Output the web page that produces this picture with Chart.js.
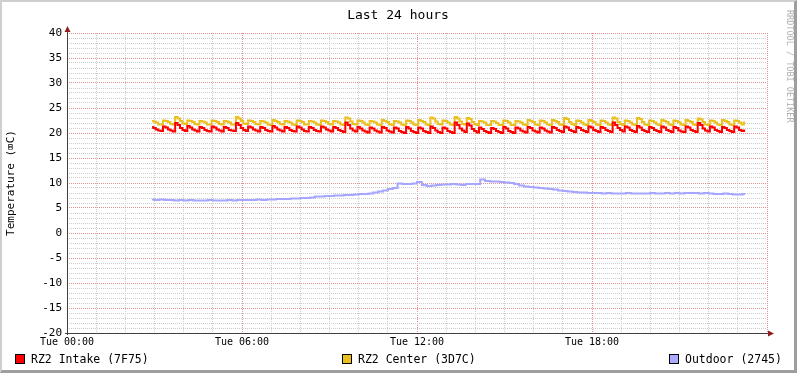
<!DOCTYPE html>
<html><head><meta charset="utf-8">
<script src="https://cdn.jsdelivr.net/npm/chart.js@4/dist/chart.umd.min.js"></script>
<style>
html,body{margin:0;padding:0;background:#fff;}
#frame{position:absolute;left:0;top:0;width:797px;height:373px;box-sizing:border-box;border-top:2px solid #cfcfcf;border-left:2px solid #cfcfcf;border-right:3px solid #9e9e9e;border-bottom:3px solid #9e9e9e;background:#fff;}
#c{display:block;}
</style></head><body>
<div id="frame"><canvas id="c" width="792" height="368"></canvas></div>
<script>
const TITLE = 'Last 24 hours';
const Y_TITLE = 'Temperature (\u2327C)';
const WATERMARK = 'RRDTOOL / TOBI OETIKER';
const X_TICK_HOURS = [0, 6, 12, 18];
const X_TICK_LABELS = ['Tue 00:00', 'Tue 06:00', 'Tue 12:00', 'Tue 18:00'];
const SERIES_LABELS = ['RZ2 Intake (7F75)', 'RZ2 Center (3D7C)', 'Outdoor (2745)'];
const SERIES_COLORS = ['#ff0000', '#eac01e', '#aaaaff'];
const START_HOUR = 2 + 55 / 60;   // first sample 02:55
const STEP_HOURS = 5 / 60;        // intake / center sample step
const OUT_STEP_HOURS = 10 / 60;   // outdoor sample step

const intake = [
  21.2,21.0,20.7,20.5,20.4, 21.3,21.1,20.7,20.5,20.3, 22.0,21.6,21.0,20.6,20.4, 21.4,21.1,20.7,20.5,20.3,
  21.2,21.0,20.6,20.4,20.3, 21.3,21.1,20.7,20.5,20.3, 21.2,21.0,20.6,20.5,20.4, 22.0,21.6,21.0,20.6,20.4,
  21.3,21.1,20.7,20.5,20.3, 21.2,21.0,20.6,20.4,20.3, 21.4,21.1,20.7,20.5,20.3, 21.2,21.0,20.6,20.4,20.3,
  21.3,21.1,20.7,20.4,20.3, 21.2,21.0,20.6,20.4,20.3, 21.3,21.1,20.7,20.5,20.3, 21.2,21.0,20.6,20.4,20.2,
  22.1,21.6,20.9,20.5,20.3, 21.2,20.9,20.5,20.3,20.1, 21.1,20.9,20.5,20.3,20.1, 21.2,21.0,20.5,20.3,20.1,
  21.1,20.9,20.4,20.2,20.0, 21.2,20.9,20.4,20.2,20.0, 21.1,20.9,20.4,20.2,20.0, 21.3,21.0,20.5,20.2,20.0,
  21.1,20.9,20.4,20.2,20.0, 22.1,21.6,20.9,20.5,20.2, 21.9,21.5,20.8,20.4,20.1, 21.1,20.8,20.4,20.2,20.0,
  21.0,20.8,20.4,20.2,20.0, 21.2,20.9,20.4,20.2,20.0, 21.1,20.9,20.5,20.3,20.1, 21.2,21.0,20.5,20.3,20.1,
  21.1,20.9,20.5,20.3,20.1, 21.2,21.0,20.6,20.4,20.2, 21.3,21.1,20.6,20.4,20.2, 21.2,21.0,20.6,20.4,20.2,
  21.3,21.1,20.6,20.4,20.2, 21.2,21.0,20.6,20.4,20.2, 22.1,21.6,21.0,20.6,20.3, 21.3,21.1,20.6,20.4,20.2,
  21.4,21.1,20.6,20.4,20.2, 21.2,21.0,20.6,20.4,20.2, 21.3,21.1,20.6,20.4,20.2, 21.2,21.0,20.5,20.3,20.2,
  21.3,21.1,20.6,20.4,20.2, 22.0,21.6,20.9,20.5,20.3, 21.3,21.1,20.6,20.4,20.2, 21.2,21.0,20.6,20.4,20.2,
  21.3,21.1,20.6,20.4,20.5
];
const center = [
  22.4,22.3,22.1,21.7,21.7, 22.5,22.4,22.2,21.8,21.7, 23.2,22.9,22.4,21.9,21.8, 22.5,22.4,22.2,21.8,21.7,
  22.4,22.3,22.1,21.7,21.7, 22.5,22.4,22.2,21.8,21.7, 22.4,22.3,22.1,21.7,21.7, 23.2,22.9,22.4,21.9,21.8,
  22.5,22.4,22.2,21.8,21.7, 22.4,22.3,22.1,21.7,21.6, 22.6,22.4,22.2,21.8,21.7, 22.4,22.3,22.1,21.7,21.6,
  22.5,22.4,22.2,21.7,21.7, 22.4,22.3,22.1,21.7,21.6, 22.5,22.4,22.2,21.8,21.7, 22.4,22.3,22.1,21.7,21.6,
  23.1,22.9,22.3,21.8,21.7, 22.5,22.4,22.1,21.7,21.6, 22.4,22.3,22.1,21.7,21.6, 22.6,22.4,22.2,21.7,21.6,
  22.4,22.3,22.1,21.7,21.6, 22.5,22.4,22.1,21.7,21.6, 22.6,22.4,22.2,21.7,21.6, 23.1,22.9,22.3,21.8,21.7,
  22.5,22.4,22.1,21.7,21.6, 23.2,22.9,22.3,21.8,21.7, 23.0,22.8,22.2,21.8,21.6, 22.4,22.3,22.1,21.6,21.6,
  22.4,22.3,22.0,21.6,21.6, 22.5,22.4,22.1,21.6,21.6, 22.4,22.3,22.1,21.7,21.6, 22.6,22.4,22.2,21.7,21.6,
  22.5,22.4,22.1,21.7,21.6, 22.6,22.4,22.2,21.7,21.6, 23.0,22.8,22.2,21.8,21.6, 22.5,22.4,22.1,21.7,21.6,
  22.6,22.4,22.2,21.7,21.6, 22.5,22.4,22.1,21.7,21.6, 23.1,22.9,22.2,21.8,21.6, 22.5,22.4,22.1,21.7,21.6,
  23.0,22.8,22.2,21.7,21.6, 22.5,22.4,22.1,21.7,21.6, 22.6,22.4,22.2,21.7,21.6, 22.5,22.4,22.1,21.7,21.6,
  22.6,22.4,22.2,21.7,21.6, 22.9,22.7,22.2,21.7,21.6, 22.5,22.4,22.1,21.7,21.6, 22.6,22.4,22.2,21.7,21.6,
  22.5,22.4,22.1,21.7,22.1
];
const outdoor = [
  6.7,6.6,6.7,6.6,6.6,6.5,6.6,6.5,6.6,6.5,6.5,
  6.5,6.6,6.5,6.5,6.5,6.6,6.5,6.6,6.6,6.6,
  6.6,6.7,6.6,6.7,6.7,6.8,6.8,6.8,6.9,6.9,
  7.0,7.0,7.1,7.3,7.3,7.4,7.4,7.5,7.5,7.6,
  7.6,7.7,7.8,7.8,7.9,8.1,8.3,8.5,8.8,9.0,
  9.9,9.8,9.8,9.9,10.2,9.6,9.4,9.5,9.6,9.7,
  9.7,9.8,9.7,9.6,9.8,9.8,9.8,10.7,10.4,10.3,
  10.3,10.2,10.1,10.0,9.8,9.5,9.3,9.2,9.1,9.0,
  8.9,8.8,8.7,8.5,8.4,8.3,8.2,8.1,8.1,8.0,
  8.0,8.0,7.9,8.0,7.9,7.9,7.9,8.0,7.9,7.9,
  7.9,7.9,8.0,7.9,7.9,8.0,7.9,8.0,7.9,8.0,
  8.0,8.0,7.9,8.0,7.9,7.8,7.8,7.9,7.8,7.7,
  7.7,7.8
];

const MONO = '"DejaVu Sans Mono", "Liberation Mono", monospace';
const toPoints = (arr, step) => arr.map((v, i) => ({ x: START_HOUR + i * step, y: v }));

const decor = {
  id: 'decor',
  afterDraw(chart) {
    const ctx = chart.ctx, a = chart.chartArea;
    const W = chart.width;
    ctx.save();
    // axes
    const bx = Math.round(a.left) + 0.5, by = Math.round(a.bottom) + 0.5;
    ctx.strokeStyle = '#404040';
    ctx.lineWidth = 1;
    ctx.beginPath();
    ctx.moveTo(a.left - 2, by); ctx.lineTo(a.right + 2, by);
    ctx.moveTo(bx, a.bottom + 2); ctx.lineTo(bx, a.top - 2);
    ctx.stroke();
    ctx.fillStyle = '#8f1f1f';
    ctx.beginPath();
    ctx.moveTo(a.right + 1, by - 3); ctx.lineTo(a.right + 7, by); ctx.lineTo(a.right + 1, by + 3); ctx.closePath();
    ctx.fill();
    ctx.beginPath();
    ctx.moveTo(bx - 3, a.top - 1); ctx.lineTo(bx, a.top - 7); ctx.lineTo(bx + 3, a.top - 1); ctx.closePath();
    ctx.fill();

    // title
    ctx.fillStyle = '#000';
    ctx.font = '13px ' + MONO;
    ctx.textAlign = 'center';
    ctx.textBaseline = 'alphabetic';
    ctx.fillText(TITLE, W / 2, 17);

    // y title
    ctx.save();
    ctx.translate(9, (a.top + a.bottom) / 2);
    ctx.rotate(-Math.PI / 2);
    ctx.font = '11px ' + MONO;
    ctx.textBaseline = 'middle';
    ctx.fillText(Y_TITLE, 0, 0);
    ctx.restore();

    // watermark
    ctx.save();
    ctx.translate(787, 8);
    ctx.rotate(Math.PI / 2);
    ctx.font = '8.5px ' + MONO;
    ctx.fillStyle = '#b0b0b0';
    ctx.textAlign = 'left';
    ctx.textBaseline = 'middle';
    ctx.fillText(WATERMARK, 0, 0);
    ctx.restore();

    // legend (justified)
    ctx.font = '11.5px ' + MONO;
    ctx.textBaseline = 'middle';
    ctx.textAlign = 'left';
    const box = 10, gapT = 6, L = 13, R = 780, ly = 357;
    const widths = SERIES_LABELS.map(t => box + gapT + ctx.measureText(t).width);
    const total = widths.reduce((s, w) => s + w, 0);
    const gap = (R - L - total) / (SERIES_LABELS.length - 1);
    let x = L;
    SERIES_LABELS.forEach((t, i) => {
      const bxl = Math.round(x);
      ctx.fillStyle = SERIES_COLORS[i];
      ctx.fillRect(bxl, ly - 5, box, box);
      ctx.strokeStyle = '#000';
      ctx.strokeRect(bxl + 0.5, ly - 4.5, box - 1, box - 1);
      ctx.fillStyle = '#000';
      ctx.fillText(t, bxl + box + gapT, ly + 1);
      x += widths[i] + gap;
    });
    ctx.restore();
  }
};

const MINOR = 'rgb(205,205,205)';
const MAJOR = 'rgb(230,145,145)';

new Chart(document.getElementById('c'), {
  type: 'line',
  data: {
    datasets: [
      { label: SERIES_LABELS[0], data: toPoints(intake, STEP_HOURS), borderColor: SERIES_COLORS[0], order: 2, stepped: 'middle' },
      { label: SERIES_LABELS[1], data: toPoints(center, STEP_HOURS), borderColor: SERIES_COLORS[1], order: 3, stepped: 'middle' },
      { label: SERIES_LABELS[2], data: toPoints(outdoor, OUT_STEP_HOURS), borderColor: '#a6a6ff', order: 1, stepped: 'middle' }
    ]
  },
  options: {
    responsive: false,
    animation: false,
    datasets: { line: { borderWidth: 2, pointRadius: 0, tension: 0, fill: false } },
    layout: { padding: { left: 0, right: 27, top: 31, bottom: 0 } },
    plugins: { legend: { display: false }, tooltip: { enabled: false }, title: { display: false } },
    scales: {
      x: {
        type: 'linear', min: 0, max: 24,
        afterFit: s => { s.height = 37; },
        grid: { drawTicks: false, lineWidth: 1, color: c => (c.tick && c.tick.value % 6 === 0) ? MAJOR : MINOR },
        border: { display: false, dash: [1, 1] },
        ticks: {
          stepSize: 1, autoSkip: false, maxRotation: 0, padding: 3, color: '#000',
          font: { family: MONO, size: 10 },
          callback: v => { const k = X_TICK_HOURS.indexOf(v); return k >= 0 ? X_TICK_LABELS[k] : ''; }
        }
      },
      y: {
        min: -20, max: 40,
        afterFit: s => { s.width = 65; },
        grid: { drawTicks: false, lineWidth: 1, color: c => (c.tick && c.tick.value % 5 === 0) ? MAJOR : MINOR },
        border: { display: false, dash: [1, 1] },
        ticks: {
          stepSize: 1, autoSkip: false, padding: 5, color: '#000',
          font: { family: MONO, size: 11 },
          callback: v => (v % 5 === 0 ? String(v) : '')
        }
      }
    }
  },
  plugins: [decor]
});
</script>
</body></html>
